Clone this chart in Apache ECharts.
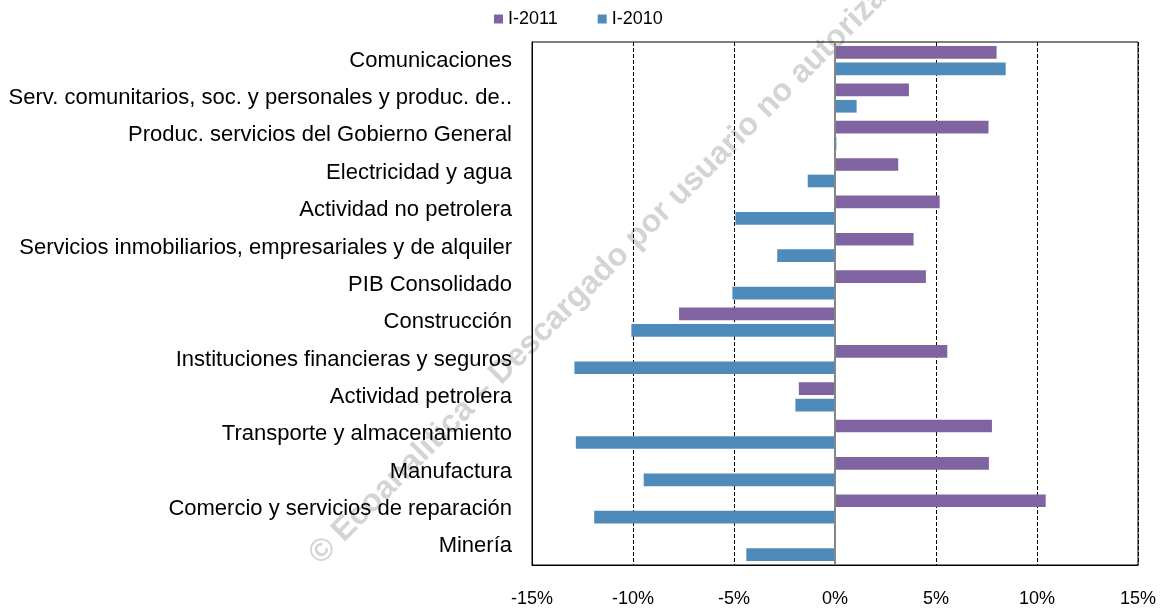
<!DOCTYPE html>
<html>
<head>
<meta charset="utf-8">
<script src="https://cdn.jsdelivr.net/npm/echarts@6/dist/echarts.min.js"></script>
<style>
html,body{margin:0;padding:0;background:#fff;}
#chart{width:1161px;height:608px;}
</style>
</head>
<body>
<div id="chart"></div>
<script>
const categories = [
  "Comunicaciones",
  "Serv. comunitarios, soc. y personales y produc. de..",
  "Produc. servicios del Gobierno General",
  "Electricidad y agua",
  "Actividad no petrolera",
  "Servicios inmobiliarios, empresariales y de alquiler",
  "PIB Consolidado",
  "Construcción",
  "Instituciones financieras y seguros",
  "Actividad petrolera",
  "Transporte y almacenamiento",
  "Manufactura",
  "Comercio y servicios de reparación",
  "Minería"
];
const seriesNames = ["I-2011", "I-2010"];
const values2011 = [8.0, 3.66, 7.6, 3.13, 5.18, 3.89, 4.5, -7.72, 5.56, -1.79, 7.77, 7.62, 10.43, 0];
const values2010 = [8.45, 1.07, 0.07, -1.35, -4.93, -2.86, -5.08, -10.08, -12.9, -1.96, -12.83, -9.47, -11.92, -4.39];
const xTicks = [-15, -10, -5, 0, 5, 10, 15];
const watermark = "© Ecoanalitica – Descargado por usuario no autorizado";

const chart = echarts.init(document.getElementById('chart'), null, {renderer: 'canvas'});
const FONT = "'Liberation Sans', Arial, sans-serif";

chart.setOption({
  animation: false,
  backgroundColor: '#fff',
  textStyle: {fontFamily: FONT},
  graphic: [{
    type: 'text',
    z: -10,
    x: 612, y: 262,
    rotation: Math.PI / 4,
    style: {
      text: watermark,
      font: "bold 32px 'Liberation Sans', Arial, sans-serif",
      fill: '#d4d4d4',
      align: 'center',
      verticalAlign: 'middle'
    }
  }],
  legend: {
    data: seriesNames,
    left: 489,
    top: 5,
    icon: 'rect',
    itemWidth: 9,
    itemHeight: 9,
    itemGap: 40,
    textStyle: {fontSize: 18, color: '#000', fontFamily: FONT}
  },
  grid: {
    left: 532,
    right: 23,
    top: 42,
    bottom: 42,
    show: true,
    borderColor: '#000',
    borderWidth: 1,
    containLabel: false
  },
  xAxis: {
    type: 'value',
    min: xTicks[0],
    max: xTicks[xTicks.length - 1],
    interval: 5,
    axisLine: {show: true, lineStyle: {color: '#000', width: 1}},
    axisTick: {show: false},
    axisLabel: {
      formatter: '{value}%',
      fontSize: 18,
      color: '#000',
      margin: 25,
      fontFamily: FONT
    },
    splitLine: {show: true, lineStyle: {color: '#000', type: [4, 2], width: 1}}
  },
  yAxis: {
    type: 'category',
    data: categories,
    inverse: true,
    axisLine: {show: true, onZero: false, lineStyle: {color: '#000', width: 1}},
    axisTick: {show: false},
    axisLabel: {fontSize: 22, color: '#000', margin: 20, fontFamily: FONT}
  },
  series: [
    {
      name: seriesNames[0],
      type: 'bar',
      data: values2011,
      itemStyle: {color: '#8064A2'},
      barCategoryGap: '22%',
      barGap: '30%',
      markLine: {
        silent: true,
        symbol: 'none',
        label: {show: false},
        lineStyle: {color: '#868686', width: 2, type: 'solid'},
        data: [{xAxis: 0}],
        z: 10
      }
    },
    {
      name: seriesNames[1],
      type: 'bar',
      data: values2010,
      itemStyle: {color: '#4F8BBA'},
      barCategoryGap: '22%',
      barGap: '30%'
    }
  ]
});
</script>
</body>
</html>
